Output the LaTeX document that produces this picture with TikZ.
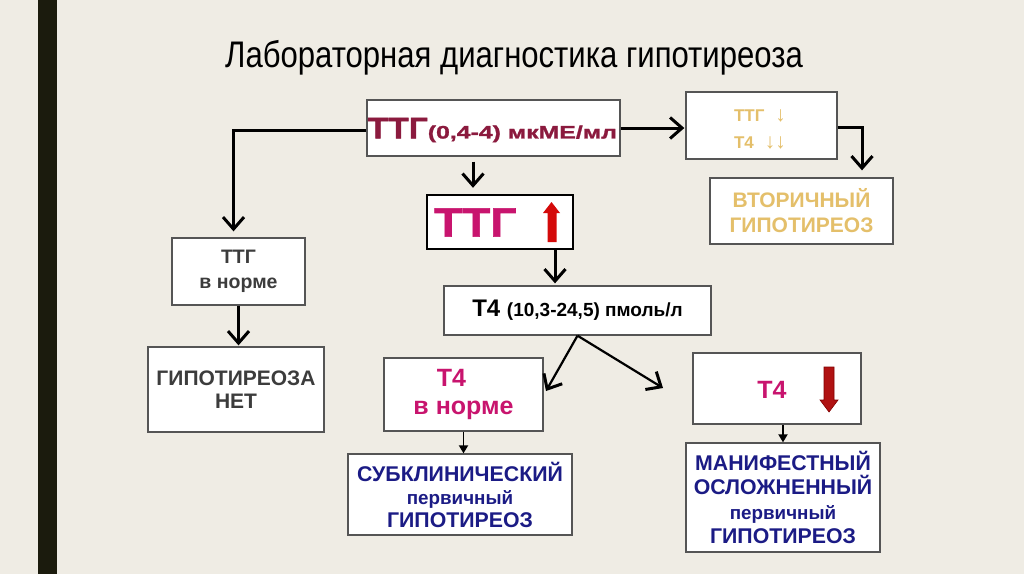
\documentclass[tikz,border=0pt]{standalone}
\usepackage{fontspec}
\setmainfont{Liberation Sans}
\newfontfamily\titlefont{Liberation Sans}[FakeStretch=0.84]
\newfontfamily\heavyfont{Liberation Sans}[FakeStretch=1.12,FakeBold=1.5]
\newfontfamily\wideheavy{Liberation Sans}[FakeStretch=1.38,FakeBold=1.5]
\usetikzlibrary{arrows.meta}
\definecolor{bg}{HTML}{EFECE4}
\definecolor{bar}{HTML}{1B1B0D}
\definecolor{maroon}{HTML}{8B1A3E}
\definecolor{gold}{HTML}{E4BF6A}
\definecolor{grayt}{HTML}{3C3C3C}
\definecolor{magen}{HTML}{C8146E}
\definecolor{navy}{HTML}{1B1B85}
\definecolor{redA}{HTML}{D40A0A}
\definecolor{redB}{HTML}{B01212}
\definecolor{boxline}{HTML}{555555}
\tikzset{
  box/.style={draw=boxline,line width=1.3pt,fill=white,inner sep=0pt,align=center,font=\bfseries},
  thickarrow/.style={line width=3pt,-{Straight Barb[length=12pt,width=21pt,line width=3pt]}},
  thinarrow/.style={line width=1.8pt,-{Triangle[length=8pt,width=9pt]}}
}
\begin{document}
\begin{tikzpicture}[x=1pt,y=-1pt]
\useasboundingbox (0,0) rectangle (1024,574);
\fill[bg] (0,0) rectangle (1024,574);
\fill[bar] (38,0) rectangle (57,574);
\node[font=\titlefont\fontsize{37}{39}\selectfont] (title) at (514,58) {Лабораторная диагностика гипотиреоза};
% boxes
\node[box,minimum width=253pt,minimum height=56pt] (top) at (493.5,128) {};
\node[text=maroon,anchor=west,inner sep=0pt] (toptxt) at (367.5,130)
  {\heavyfont\bfseries\fontsize{30}{30}\selectfont ТТГ\wideheavy\fontsize{18}{18}\selectfont(0,4-4) мкМЕ/мл};
\node[box,minimum width=151pt,minimum height=67pt] (tr) at (761.5,125.5) {};
\node[text=gold,align=left,inner sep=0pt,font=\bfseries\fontsize{17}{27}\selectfont] (trtxt) at (760,129)
  {ТТГ\hspace{11pt}{\mdseries\fontsize{21}{21}\selectfont↓}\\Т4\hspace{11pt}{\mdseries\fontsize{21}{21}\selectfont↓↓}};
\node[box,minimum width=183pt,minimum height=66pt,text=gold,font=\bfseries\fontsize{21}{25}\selectfont] (vt) at (801.5,211)
  {ВТОРИЧНЫЙ\\ГИПОТИРЕОЗ};
\node[box,minimum width=133pt,minimum height=67pt,text=grayt,font=\bfseries\fontsize{19.5}{25}\selectfont] (norm) at (238.5,271.5)
  {ТТГ\\в норме};
\node[box,minimum width=176pt,minimum height=85pt,text=grayt,font=\bfseries\fontsize{21}{23.5}\selectfont] (net) at (236,389.5)
  {ГИПОТИРЕОЗА\\НЕТ};
\node[box,draw=black,line width=2.4pt,minimum width=146pt,minimum height=54pt] (up) at (500,222) {};
\node[text=magen,anchor=west,inner sep=0pt] (uptxt) at (434,222.5) {\heavyfont\bfseries\fontsize{41}{41}\selectfont ТТГ};
\node[box,minimum width=267pt,minimum height=49pt] (t4) at (577.5,310.5)
  {\fontsize{24}{24}\selectfont Т4 \fontsize{19}{20}\selectfont(10,3-24,5) пмоль/л};
\node[box,minimum width=159pt,minimum height=73pt,text=magen,font=\bfseries\fontsize{25}{28}\selectfont] (n4) at (463.5,394.5)
  {Т4\hspace*{24pt}\\в норме};
\node[box,minimum width=168pt,minimum height=71pt] (d4) at (777,388.5) {};
\node[text=magen,font=\bfseries\fontsize{25}{26}\selectfont,inner sep=0pt] (d4txt) at (772,390) {Т4};
\node[box,minimum width=224pt,minimum height=81pt,text=navy,font=\bfseries\fontsize{21.3}{23}\selectfont] (sub) at (460,494.5)
  {СУБКЛИНИЧЕСКИЙ\\{\fontsize{18.8}{23}\selectfont первичный}\\ГИПОТИРЕОЗ};
\node[box,minimum width=194pt,minimum height=109pt,text=navy,font=\bfseries\fontsize{21.3}{24.5}\selectfont] (man) at (783,497.5)
  {МАНИФЕСТНЫЙ\\ОСЛОЖНЕННЫЙ\\{\fontsize{18.8}{24.5}\selectfont первичный}\\ГИПОТИРЕОЗ};
% red arrows
\fill[redA] (547.5,242) -- (547.5,213) -- (543,213) -- (551.5,202) -- (560,213) -- (556.5,213) -- (556.5,242) -- cycle;
\filldraw[fill=redB,draw=red!50!black,line width=0.6pt] (824,367) -- (824,400) -- (820,400) -- (829,412) -- (838,400) -- (834,400) -- (834,367) -- cycle;
% connectors
\coordinate (normin) at ([xshift=-5pt]norm.north);
\draw[thickarrow,shorten >=6pt] ([yshift=-2pt]top.west) -| (normin);
\draw[thickarrow,shorten >=1pt] (top.east) -- (top.east -| tr.west);
\coordinate (vtin) at ([xshift=60.5pt]vt.north);
\draw[thickarrow,shorten >=7pt] ([yshift=-2pt]tr.east) -| (vtin);
\coordinate (upin) at ([xshift=-27pt]up.north);
\draw[thickarrow,shorten <=5pt,shorten >=6pt] (upin |- top.south) -- (upin);
\coordinate (upout) at ([xshift=55pt]up.south);
\draw[thickarrow,shorten >=2pt] (upout) -- (upout |- t4.north);
\coordinate (b1) at (546,391);
\coordinate (b2) at (663,388);
\draw[thickarrow,line width=2.2pt] (t4.south) -- (b1);
\draw[thickarrow,line width=2.2pt] (t4.south) -- (b2);
\draw[thickarrow,shorten >=1pt] (norm.south) -- (norm.south |- net.north);
\draw[thinarrow] (n4.south) -- (n4.south |- sub.north);
\draw[thinarrow] (man.north |- d4.south) -- (man.north);
\end{tikzpicture}
\end{document}
